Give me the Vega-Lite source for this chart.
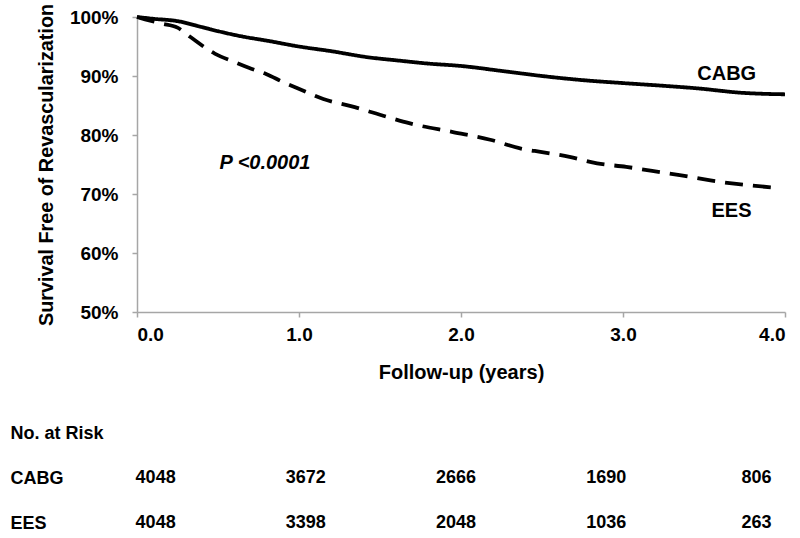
{
  "$schema": "https://vega.github.io/schema/vega-lite/v6.json",
  "padding": {"left": 10, "top": 0, "right": 5, "bottom": 2},
  "background": "white",
  "spacing": 42,
  "config": {
    "view": {"stroke": null},
    "font": "Liberation Sans",
    "axis": {
      "grid": false,
      "labelFont": "Liberation Sans",
      "labelFontWeight": "bold",
      "labelColor": "black",
      "titleFont": "Liberation Sans",
      "titleFontWeight": "bold",
      "titleColor": "black",
      "domainColor": "#a6a6a6",
      "tickColor": "#a6a6a6",
      "domainWidth": 1.5,
      "tickWidth": 1.5
    }
  },
  "vconcat": [
    {
      "width": 648,
      "height": 295,
      "layer": [
        {
          "data": {
            "values": [
              {"group": "CABG", "t": 0, "s": 1.0},
              {"group": "CABG", "t": 0.1, "s": 0.997},
              {"group": "CABG", "t": 0.25, "s": 0.993},
              {"group": "CABG", "t": 0.4, "s": 0.983},
              {"group": "CABG", "t": 0.5, "s": 0.976},
              {"group": "CABG", "t": 0.65, "s": 0.967},
              {"group": "CABG", "t": 0.8, "s": 0.960},
              {"group": "CABG", "t": 1.0, "s": 0.950},
              {"group": "CABG", "t": 1.2, "s": 0.942},
              {"group": "CABG", "t": 1.42, "s": 0.932},
              {"group": "CABG", "t": 1.62, "s": 0.926},
              {"group": "CABG", "t": 1.8, "s": 0.921},
              {"group": "CABG", "t": 2.0, "s": 0.917},
              {"group": "CABG", "t": 2.24, "s": 0.909},
              {"group": "CABG", "t": 2.5, "s": 0.900},
              {"group": "CABG", "t": 2.75, "s": 0.893},
              {"group": "CABG", "t": 3.0, "s": 0.888},
              {"group": "CABG", "t": 3.27, "s": 0.883},
              {"group": "CABG", "t": 3.5, "s": 0.878},
              {"group": "CABG", "t": 3.6, "s": 0.875},
              {"group": "CABG", "t": 3.71, "s": 0.872},
              {"group": "CABG", "t": 3.85, "s": 0.870},
              {"group": "CABG", "t": 4.0, "s": 0.869},
              {"group": "EES", "t": 0, "s": 1.0},
              {"group": "EES", "t": 0.05, "s": 0.996},
              {"group": "EES", "t": 0.15, "s": 0.989},
              {"group": "EES", "t": 0.25, "s": 0.982},
              {"group": "EES", "t": 0.33, "s": 0.966},
              {"group": "EES", "t": 0.48, "s": 0.938},
              {"group": "EES", "t": 0.6, "s": 0.924},
              {"group": "EES", "t": 0.69, "s": 0.914},
              {"group": "EES", "t": 0.8, "s": 0.903},
              {"group": "EES", "t": 0.9, "s": 0.890},
              {"group": "EES", "t": 1.02, "s": 0.876},
              {"group": "EES", "t": 1.15, "s": 0.861},
              {"group": "EES", "t": 1.32, "s": 0.849},
              {"group": "EES", "t": 1.54, "s": 0.831},
              {"group": "EES", "t": 1.68, "s": 0.820},
              {"group": "EES", "t": 1.95, "s": 0.805},
              {"group": "EES", "t": 2.18, "s": 0.792},
              {"group": "EES", "t": 2.37, "s": 0.777},
              {"group": "EES", "t": 2.5, "s": 0.771},
              {"group": "EES", "t": 2.67, "s": 0.763},
              {"group": "EES", "t": 2.84, "s": 0.752},
              {"group": "EES", "t": 3.02, "s": 0.746},
              {"group": "EES", "t": 3.18, "s": 0.739},
              {"group": "EES", "t": 3.35, "s": 0.732},
              {"group": "EES", "t": 3.54, "s": 0.723},
              {"group": "EES", "t": 3.7, "s": 0.717},
              {"group": "EES", "t": 3.93, "s": 0.711}
            ]
          },
          "mark": {"type": "line", "color": "black", "strokeWidth": 3.8, "strokeCap": "butt", "interpolate": "monotone"},
          "encoding": {
            "x": {
              "field": "t", "type": "quantitative",
              "scale": {"domain": [0, 4], "nice": false},
              "axis": {
                "values": [0, 1, 2, 3, 4], "format": ".1f",
                "title": "Follow-up (years)",
                "labelFontSize": 19, "titleFontSize": 20,
                "tickSize": 5, "labelPadding": 8, "titlePadding": 18
              }
            },
            "y": {
              "field": "s", "type": "quantitative",
              "scale": {"domain": [0.5, 1.0], "nice": false},
              "axis": {
                "values": [0.5, 0.6, 0.7, 0.8, 0.9, 1.0], "format": ".0%",
                "title": "Survival Free of  Revascularization",
                "labelFontSize": 19, "titleFontSize": 19.8,
                "tickSize": 5, "labelPadding": 14, "titlePadding": 13
              }
            },
            "strokeDash": {
              "field": "group", "type": "nominal",
              "scale": {"domain": ["CABG", "EES"], "range": [[1, 0], [18, 10]]},
              "legend": null
            }
          }
        },
        {
          "data": {
            "values": [
              {"label": "CABG", "t": 3.64, "s": 0.903},
              {"label": "EES", "t": 3.67, "s": 0.671}
            ]
          },
          "mark": {"type": "text", "fontSize": 20, "fontWeight": "bold", "color": "black", "baseline": "middle", "align": "center"},
          "encoding": {
            "x": {"field": "t", "type": "quantitative"},
            "y": {"field": "s", "type": "quantitative"},
            "text": {"field": "label"}
          }
        },
        {
          "data": {
            "values": [
              {"label": "P <0.0001", "t": 0.79, "s": 0.752}
            ]
          },
          "mark": {"type": "text", "fontSize": 20, "fontWeight": "bold", "fontStyle": "italic", "color": "black", "baseline": "middle", "align": "center"},
          "encoding": {
            "x": {"field": "t", "type": "quantitative"},
            "y": {"field": "s", "type": "quantitative"},
            "text": {"field": "label"}
          }
        }
      ]
    },
    {
      "width": 648,
      "height": 108,
      "data": {
        "values": [
          {"row": "CABG", "t": 0, "n": 4048},
          {"row": "CABG", "t": 1, "n": 3672},
          {"row": "CABG", "t": 2, "n": 2666},
          {"row": "CABG", "t": 3, "n": 1690},
          {"row": "CABG", "t": 4, "n": 806},
          {"row": "EES", "t": 0, "n": 4048},
          {"row": "EES", "t": 1, "n": 3398},
          {"row": "EES", "t": 2, "n": 2048},
          {"row": "EES", "t": 3, "n": 1036},
          {"row": "EES", "t": 4, "n": 263}
        ]
      },
      "mark": {"type": "text", "fontSize": 18, "fontWeight": "bold", "color": "black", "baseline": "middle", "align": "center"},
      "encoding": {
        "x": {
          "field": "t", "type": "quantitative",
          "scale": {"domain": [-0.124, 4.19], "nice": false, "zero": false},
          "axis": null
        },
        "y": {
          "field": "row", "type": "nominal",
          "scale": {"domain": ["No. at Risk", "CABG", "EES"], "type": "point", "padding": 0.2},
          "axis": {
            "title": null, "domain": false, "ticks": false, "tickSize": 0,
            "labelAlign": "left", "labelPadding": 127, "labelFontSize": 18,
            "labelBaseline": "middle"
          }
        },
        "text": {"field": "n", "type": "quantitative"}
      }
    }
  ]
}
